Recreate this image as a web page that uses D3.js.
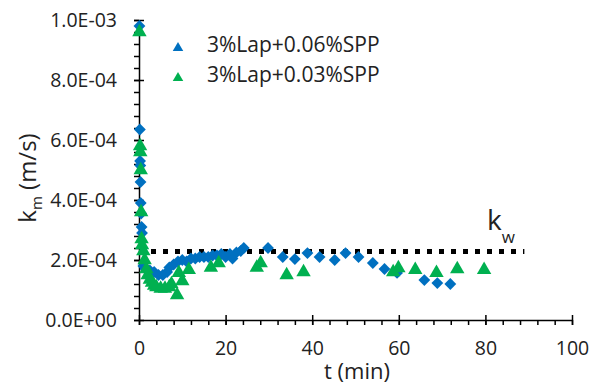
<!DOCTYPE html>
<html>
<head>
<meta charset="utf-8">
<script src="https://cdn.jsdelivr.net/npm/d3@7"></script>
<style>
  body { margin: 0; background: #fff; }
  text { font-family: "Open Sans", sans-serif; fill: #222; }
</style>
</head>
<body>
<svg width="601" height="389"></svg>
<script>
// t (min) and km (m/s)
var tBlue = [0.1, 0.2, 0.25, 0.3, 0.35, 0.4, 0.5, 0.6, 0.7, 1.0, 1.5, 2.5, 3.5, 4.5, 5.5, 6.5, 7.0, 8.0, 9.0, 10.0,
  11.0, 12.0, 13.0, 14.0, 15.0, 16.0, 17.0, 18.0, 19.0, 20.0, 21.0, 21.6, 22.5, 23.5, 24.2, 29.8, 33.2, 36.0, 38.9,
  41.7, 45.2, 47.7, 50.7, 54.0, 56.7, 59.6, 65.9, 68.9, 71.9];
var kBlue = [9.8e-4, 6.35e-4, 5.3e-4, 5.15e-4, 4.6e-4, 3.9e-4, 3.55e-4, 3.1e-4, 2.9e-4, 1.8e-4, 1.7e-4, 1.65e-4,
  1.6e-4, 1.5e-4, 1.5e-4, 1.6e-4, 1.75e-4, 1.85e-4, 1.95e-4, 2.0e-4, 1.95e-4, 2.05e-4, 2.05e-4, 2.1e-4, 2.1e-4,
  2.1e-4, 2.15e-4, 2.15e-4, 2.2e-4, 2.1e-4, 2.2e-4, 2.05e-4, 2.25e-4, 2.3e-4, 2.4e-4, 2.4e-4, 2.1e-4, 2.03e-4,
  2.23e-4, 2.1e-4, 2.0e-4, 2.23e-4, 2.1e-4, 1.9e-4, 1.7e-4, 1.57e-4, 1.33e-4, 1.23e-4, 1.2e-4];

var tGreen = [0.1, 0.25, 0.3, 0.4, 0.5, 0.6, 0.7, 1.0, 1.3, 1.7, 2.0, 2.5, 3.0, 3.5, 4.0, 5.0, 6.0, 7.0, 7.5, 8.8,
  9.2, 10.0, 11.5, 16.6, 18.4, 27.2, 28.1, 34.1, 38.0, 58.7, 59.9, 63.8, 68.7, 73.5, 79.7];
var kGreen = [9.6e-4, 5.8e-4, 5.6e-4, 5.0e-4, 3.6e-4, 2.7e-4, 2.5e-4, 2.3e-4, 2.0e-4, 1.7e-4, 1.5e-4, 1.35e-4,
  1.25e-4, 1.15e-4, 1.1e-4, 1.05e-4, 1.05e-4, 1.1e-4, 1.2e-4, 0.83e-4, 1.57e-4, 1.3e-4, 1.67e-4, 1.75e-4, 1.9e-4,
  1.75e-4, 1.9e-4, 1.5e-4, 1.6e-4, 1.6e-4, 1.73e-4, 1.67e-4, 1.57e-4, 1.7e-4, 1.67e-4];

var seriesNames = ["3%Lap+0.06%SPP", "3%Lap+0.03%SPP"];
var kw = 2.28e-4;       // water value, dotted line
var kwRange = [0, 89];  // t span of the dotted line

var xTicks = [0, 20, 40, 60, 80, 100];
var yTicks = [0, 2e-4, 4e-4, 6e-4, 8e-4, 1e-3];

var blue = "#0070C0", green = "#00B050";

var svg = d3.select("svg");

var x = d3.scaleLinear().domain([0, 100]).range([139, 572]);
var y = d3.scaleLinear().domain([0, 1e-3]).range([320, 20]);

function fmt(v) {
  var s = v.toExponential(1).split("e");
  var e = +s[1];
  return s[0] + "E" + (e < 0 ? "-" : "+") + d3.format("02d")(Math.abs(e));
}

// x axis: minor ticks, then major ticks crossing the line
svg.append("g")
  .attr("transform", "translate(0,320)")
  .call(d3.axisBottom(x).tickValues(d3.range(0, 101, 4)).tickSize(5).tickSizeOuter(0).tickFormat(""));
svg.append("g")
  .attr("transform", "translate(0,320)")
  .call(d3.axisTop(x).tickValues(xTicks).tickSize(5).tickFormat(""))
  .select(".domain").remove();
var gx = svg.append("g")
  .attr("transform", "translate(0,320)")
  .call(d3.axisBottom(x).tickValues(xTicks).tickSize(5).tickPadding(16).tickFormat(d3.format("d")));
gx.select(".domain").remove();
gx.selectAll("text").style("font-size", "19.5px").attr("fill", "#222");

// y axis
svg.append("g")
  .attr("transform", "translate(139,0)")
  .call(d3.axisLeft(y).tickValues(d3.range(0, 1.0001e-3, 4e-5)).tickSize(5).tickSizeOuter(0).tickFormat(""));
svg.append("g")
  .attr("transform", "translate(139,0)")
  .call(d3.axisRight(y).tickValues(yTicks).tickSize(5).tickFormat(""))
  .select(".domain").remove();
var gy = svg.append("g")
  .attr("transform", "translate(139,0)")
  .call(d3.axisLeft(y).tickValues(yTicks).tickSize(5).tickPadding(17).tickFormat(fmt));
gy.select(".domain").remove();
gy.selectAll("text").style("font-size", "19.5px").attr("fill", "#222");

svg.selectAll(".domain, .tick line").attr("stroke", "#000").attr("stroke-width", 1.5);

// axis titles
svg.append("text")
  .attr("x", 357).attr("y", 379)
  .attr("text-anchor", "middle")
  .style("font-size", "22px")
  .text("t (min)");

var yt = svg.append("text")
  .attr("transform", "translate(36,178) rotate(-90)")
  .attr("text-anchor", "middle")
  .style("font-size", "24px");
yt.append("tspan").text("k");
yt.append("tspan").attr("dy", 6).style("font-size", "15px").text("m");
yt.append("tspan").attr("dy", -6).text(" (m/s)");

// kw dotted line
svg.append("line")
  .attr("x1", x(kwRange[0])).attr("x2", x(kwRange[1]))
  .attr("y1", y(kw)).attr("y2", y(kw))
  .attr("stroke", "#000")
  .attr("stroke-width", 5)
  .attr("stroke-dasharray", "5,7");

var kwt = svg.append("text")
  .attr("x", 487).attr("y", 230)
  .style("font-size", "28px");
kwt.append("tspan").text("k");
kwt.append("tspan").attr("dy", 13).style("font-size", "17px").text("w");

// markers
var diamond = d3.symbol().type(d3.symbolSquare).size(70);
var tri = d3.symbol().type(d3.symbolTriangle).size(90);

svg.append("g").selectAll("path")
  .data(d3.zip(tBlue, kBlue))
  .join("path")
  .attr("d", diamond)
  .attr("transform", function(d) { return "translate(" + x(d[0]) + "," + y(d[1]) + ") rotate(45)"; })
  .attr("fill", blue);

svg.append("g").selectAll("path")
  .data(d3.zip(tGreen, kGreen))
  .join("path")
  .attr("d", tri)
  .attr("transform", function(d) { return "translate(" + x(d[0]) + "," + y(d[1]) + ")"; })
  .attr("fill", green);

// legend
var leg = svg.append("g");
var legTri = d3.symbol().type(d3.symbolTriangle).size(48);
[blue, green].forEach(function(c, i) {
  leg.append("path")
    .attr("d", legTri)
    .attr("transform", "translate(178," + (48 + i * 30) + ")")
    .attr("fill", c);
  leg.append("text")
    .attr("x", 207).attr("y", 52 + i * 30)
    .style("font-size", "21px")
    .text(seriesNames[i]);
});
</script>
</body>
</html>
